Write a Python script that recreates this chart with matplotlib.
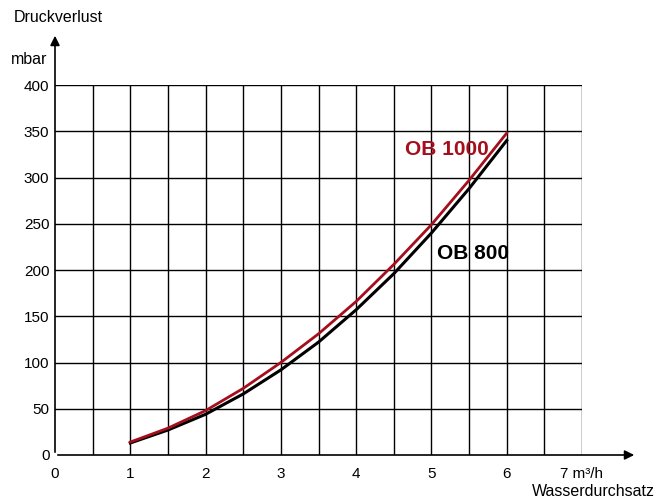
import matplotlib
matplotlib.use("Agg")
import matplotlib.pyplot as plt
import numpy as np

plt.rcParams['font.family'] = ['Liberation Sans', 'DejaVu Sans']

flow = [1, 1.5, 2, 2.5, 3, 3.5, 4, 4.5, 5, 5.5, 6]
ob1000 = [14, 29, 48, 72, 100, 131, 166, 206, 249, 297, 348]
ob800 = [13, 27, 44, 66, 92, 122, 157, 196, 240, 288, 340]
xticks = [0, 1, 2, 3, 4, 5, 6, 7]
xlabels = ["0", "1", "2", "3", "4", "5", "6", "7 m³/h"]
yticks = [0, 50, 100, 150, 200, 250, 300, 350, 400]

fig = plt.figure(figsize=(6.69, 4.99), dpi=100)
ax = fig.add_axes([55/669, 44/499, 527/669, 370/499])
ax.set_xlim(0, 7)
ax.set_ylim(0, 400)

# grid
for x in np.arange(0.5, 7.01, 0.5):
    ax.axvline(x, color='black', lw=1.0, zorder=1)
for y in yticks[1:]:
    ax.axhline(y, color='black', lw=1.0, zorder=1)
for s in ax.spines.values():
    s.set_visible(False)

# axes with arrows
ax.annotate('', xy=(637/669, 44/499), xytext=(55/669, 44/499), xycoords='figure fraction',
            arrowprops=dict(arrowstyle='-|>', color='black', lw=1.2, mutation_scale=14))
ax.annotate('', xy=(55/669, (499-33)/499), xytext=(55/669, 44/499), xycoords='figure fraction',
            arrowprops=dict(arrowstyle='-|>', color='black', lw=1.2, mutation_scale=14))

ax.plot(flow, ob800, color='black', lw=2.2, zorder=3)
ax.plot(flow, ob1000, color='#a50e1c', lw=2.0, zorder=4)

ax.set_xticks(xticks)
ax.set_xticklabels(xlabels, fontsize=11)
ax.set_yticks(yticks)
ax.set_yticklabels([str(v) for v in yticks], fontsize=11)
ax.tick_params(axis='x', length=0, pad=9)
ax.tick_params(axis='y', length=0, pad=4)

ax.text(5.2, 330, "OB 1000", color='#a50e1c', fontsize=15, fontweight='bold', ha='center', va='center')
ax.text(5.55, 218, "OB 800", color='black', fontsize=15, fontweight='bold', ha='center', va='center')

fig.text(14/669, 1 - 18/499, "Druckverlust", fontsize=11.5, ha='left', va='center')
fig.text(47/669, 1 - 60/499, "mbar", fontsize=11.5, ha='right', va='center')
fig.text(655/669, 1 - 491/499, "Wasserdurchsatz", fontsize=11.5, ha='right', va='center')

fig.savefig("out.png", dpi=100)
